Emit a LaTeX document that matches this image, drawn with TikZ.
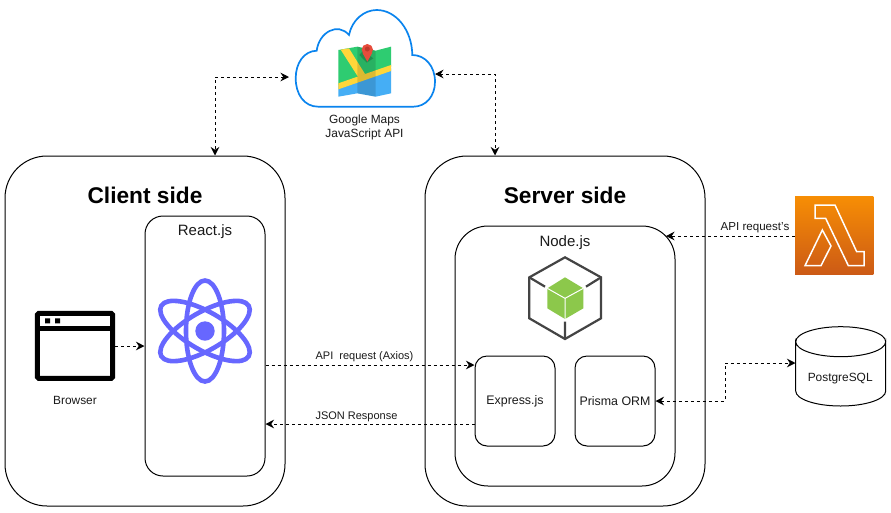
\documentclass[tikz,border=0pt]{standalone}
\usepackage{fontspec}
\setmainfont{Liberation Sans}
\usetikzlibrary{arrows.meta,calc,shapes.geometric}
\definecolor{txt}{HTML}{1A1A1A}
\definecolor{reactc}{HTML}{6767FF}
\definecolor{cloudc}{HTML}{0A84EE}
\definecolor{nodeg}{HTML}{8CC84B}
\definecolor{nodek}{HTML}{444444}
\definecolor{mapg}{HTML}{2ECC71}
\definecolor{mapb}{HTML}{45AEF5}
\definecolor{mapy}{HTML}{FFD63A}
\definecolor{pinr}{HTML}{E74C3C}
\definecolor{pind}{HTML}{C0392B}
\definecolor{lamt}{HTML}{F78E04}
\definecolor{lamb}{HTML}{CC5A16}
\tikzset{
  box/.style={draw=black,line width=1pt,fill=white,inner sep=0pt,font=\fontsize{12.4}{15}\selectfont,text=txt},
  lbl/.style={font=\fontsize{11.9}{14}\selectfont,text=txt,inner sep=0pt,align=center},
  linkl/.style={font=\fontsize{11}{13}\selectfont,text=txt,inner sep=0pt},
  title/.style={font=\fontsize{22.7}{26}\selectfont\bfseries,text=black,inner sep=0pt},
  sub/.style={font=\fontsize{15}{18}\selectfont,text=txt,inner sep=0pt},
  link/.style={line width=1pt,dash pattern=on 3pt off 3pt},
  tipb/.style={{Stealth[length=8.5pt,width=8.5pt]}-{Stealth[length=8.5pt,width=8.5pt]}},
  tipe/.style={-{Stealth[length=8.5pt,width=8.5pt]}},
  atom/.style={draw=reactc,line width=4.6pt},
}
\begin{document}
\begin{tikzpicture}[x=1pt,y=-1pt]
\useasboundingbox (0,0) rectangle (891,512);
\fill[white] (0,0) rectangle (891,512);
% containers
\node[box,rounded corners=42pt,minimum width=280pt,minimum height=350pt] (client) at (145,331) {};
\node[box,rounded corners=42pt,minimum width=280pt,minimum height=350pt] (server) at (565,331) {};
\node[box,rounded corners=18pt,minimum width=120pt,minimum height=260pt] (react) at (205,346) {};
\node[box,rounded corners=33pt,minimum width=220pt,minimum height=260pt] (nodejs) at (565,356) {};
\node[box,rounded corners=12pt,minimum width=80pt,minimum height=90pt] (express) at (515,401) {\raisebox{-1.5pt}{Express.js}};
\node[box,rounded corners=12pt,minimum width=80pt,minimum height=90pt] (prisma) at (615,401) {\raisebox{-1.5pt}{Prisma ORM}};
\node[title] (clientt) at (145,195) {Client side};
\node[title] (servert) at (565,195) {Server side};
\node[sub] (reactt) at (205,232) {React.js};
\node[sub] (nodet) at (565,243) {Node.js};
% cloud
\draw[cloudc,line width=1.7pt,fill=white] (318.3,106.7)
  .. controls (304,106.7) and (295.7,94) .. (295.7,78.3)
  .. controls (295.7,63) and (304,51) .. (316.7,50.7)
  .. controls (319,32) and (338,22) .. (349,35)
  .. controls (352,20) and (364,10) .. (376.7,10)
  .. controls (396,10) and (412,30) .. (412.3,55)
  .. controls (425,55) and (435,66) .. (435,81.7)
  .. controls (435,96) and (426,106.7) .. (413.3,106.7) -- cycle;
\coordinate (cloudw) at (289,77);
\coordinate (cloude) at (435,74);
% map
\begin{scope}[shift={(200,0)},scale=1/3]
\fill[mapg] (415,150) -- (472,140) -- (527,152) -- (573,140) -- (573,200) -- (415,255) -- cycle;
\fill[mapb] (415,255) -- (573,205) -- (573,280) -- (527,290) -- (472,280) -- (415,290) -- cycle;
\fill[mapy] (415,250) -- (573,195) -- (573,213) -- (415,268) -- cycle;
\fill[mapy] (422,149) -- (447,145) -- (495,222) -- (475,232) -- cycle;
\fill[black,opacity=0.13] (472,140) -- (527,152) -- (527,290) -- (472,280) -- cycle;
\fill[black,opacity=0.2] (478,165) -- (490,152) -- (520,175) -- (500,188) -- cycle;
\fill[pinr] (502,149) circle[radius=17];
\fill[pinr] (487,158) -- (502,185) -- (517,158) -- cycle;
\fill[pind] (502,147) circle[radius=7.5];
\end{scope}
\node[lbl] (gmaps) at (364.5,127) {Google Maps\\JavaScript API};
% browser
\begin{scope}[shift={(20,260)},scale=1/3]
\draw[black,line width=5pt,rounded corners=1.5pt,fill=white] (52,160) rectangle (278,355);
\draw[black,line width=5pt] (52,205) -- (278,205);
\fill[black] (75,175) rectangle (90,190) (105,175) rectangle (120,190);
\end{scope}
\node[minimum width=80pt,minimum height=70pt,inner sep=0pt] (browser) at (75,346) {};
\node[lbl] (browsert) at (75,400) {Browser};
% react atom
\draw[atom] (205,331) ellipse[x radius=19pt,y radius=50.5pt];
\draw[atom,rotate around={60:(205,331)}] (205,331) ellipse[x radius=19pt,y radius=50.5pt];
\draw[atom,rotate around={-60:(205,331)}] (205,331) ellipse[x radius=19pt,y radius=50.5pt];
\fill[reactc] (205,331) circle[radius=9.7pt];
% node cube
\begin{scope}[shift={(500,220)},scale=1/3]
\draw[nodek,line width=2.2pt,line join=miter] (195,112) -- (303,172) -- (303,295) -- (195,357) -- (88,295) -- (88,172) -- cycle;
\draw[nodek,line width=2.2pt] (88,172) -- (135,200) (303,172) -- (258,200) (195,357) -- (195,305);
\fill[nodeg] (195,172) -- (250,205) -- (250,265) -- (195,297) -- (142,265) -- (142,205) -- cycle;
\draw[white,line width=1pt] (195,235) -- (142,205) (195,235) -- (250,205) (195,235) -- (195,297);
\end{scope}
% lambda
\shade[top color=lamt,bottom color=lamb] (795,196) rectangle (873.3,274.3);
\node[minimum width=78pt,minimum height=78pt,inner sep=0pt] (lambda) at (834,235) {};
\begin{scope}[shift={(660,185)},scale=1/3]
\draw[white,line width=1.5pt,line join=miter] (465,60) -- (525,60) -- (590,200) -- (612,200) -- (612,242) -- (565,242) -- (497,100) -- (465,100) -- cycle;
\draw[white,line width=1.5pt,line join=miter] (487,135) -- (513,183) -- (483,242) -- (435,242) -- cycle;
\end{scope}
% cylinder
\draw[black,line width=1pt,fill=white] (795.7,341.7) arc[start angle=180,end angle=0,x radius=45,y radius=15] -- (885.7,391) arc[start angle=0,end angle=180,x radius=45,y radius=15] -- cycle;
\draw[black,line width=1pt] (795.7,341.7) arc[start angle=180,end angle=360,x radius=45,y radius=15];
\node[minimum width=90pt,minimum height=80pt,inner sep=0pt] (pg) at (840.7,366) {};
\node[lbl] (pgt) at (840.2,379) {PostgreSQL};
% connectors
\draw[link,tipb] (cloudw) -| ([xshift=70pt]client.north);
\draw[link,tipb] (cloude) -| ([xshift=-70pt]server.north);
\draw[link,tipe] (browser.east) -- (browser.east -| react.west);
\coordinate (reqa) at (react.east |- 0,365);
\coordinate (reqb) at (express.west |- 0,365);
\coordinate (resa) at (express.west |- 0,424);
\coordinate (resb) at (react.east |- 0,424);
\draw[link,tipe] (reqa) -- (reqb);
\node[linkl] (reql) at (364.5,357) {API\ \ request (Axios)};
\draw[link,tipe] (resa) -- (resb);
\node[linkl] (resl) at (356.5,417) {JSON Response};
\draw[link,tipe] (lambda.west |- 0,236) -- (666,236);
\node[linkl,font=\fontsize{11.6}{14}\selectfont] (laml) at (755,228) {API request\symbol{39}s};
\coordinate (pgw) at (pg.west |- 0,363);
\coordinate (elbow) at (725,380);
\draw[link,tipb] (prisma.east) -- (elbow |- prisma.east) -- (elbow |- pgw) -- (pgw);
\end{tikzpicture}
\end{document}
